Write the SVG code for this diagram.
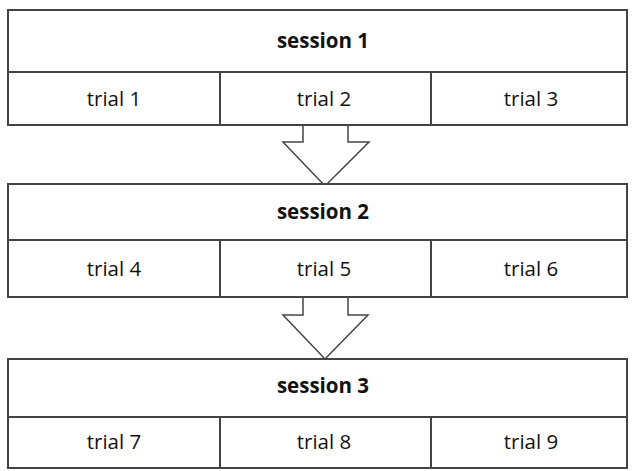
<svg xmlns="http://www.w3.org/2000/svg" width="635" height="471" viewBox="0 0 635 471">
<style>
.box{fill:#fff;stroke:#444;stroke-width:2}
.ln{stroke:#444;stroke-width:2}
.h{font-family:"Open Sans","Liberation Sans",sans-serif;font-size:20.5px;font-weight:bold;fill:#111;text-anchor:middle;dominant-baseline:central}
.t{font-family:"Open Sans","Liberation Sans",sans-serif;font-size:20.5px;fill:#111;text-anchor:middle;dominant-baseline:central}
.arr{fill:#fff;stroke:#444;stroke-width:1.5;stroke-linejoin:miter}
</style>
<rect width="635" height="471" fill="#fff"/>
<g id="connectors">
<polygon class="arr" points="303,125 348,125 348,142 369,142 325,186 283,142 303,142"/>
<polygon class="arr" points="303,297 348,297 348,315 368,315 325,359 283,315 303,315"/>
</g>
<g id="session1">
<rect class="box" x="8" y="10" width="619" height="115"/>
<line class="ln" x1="8" y1="72" x2="627" y2="72"/>
<line class="ln" x1="220" y1="72" x2="220" y2="125"/>
<line class="ln" x1="431" y1="72" x2="431" y2="125"/>
<text class="h" x="323" y="40">session 1</text>
<text class="t" x="114" y="98">trial 1</text>
<text class="t" x="324" y="98">trial 2</text>
<text class="t" x="531" y="98">trial 3</text>
</g>
<g id="session2">
<rect class="box" x="8" y="184" width="619" height="113"/>
<line class="ln" x1="8" y1="240" x2="627" y2="240"/>
<line class="ln" x1="220" y1="240" x2="220" y2="297"/>
<line class="ln" x1="431" y1="240" x2="431" y2="297"/>
<text class="h" x="323" y="211">session 2</text>
<text class="t" x="114" y="268">trial 4</text>
<text class="t" x="324" y="268">trial 5</text>
<text class="t" x="531" y="268">trial 6</text>
</g>
<g id="session3">
<rect class="box" x="8" y="359" width="619" height="109"/>
<line class="ln" x1="8" y1="417" x2="627" y2="417"/>
<line class="ln" x1="220" y1="417" x2="220" y2="468"/>
<line class="ln" x1="431" y1="417" x2="431" y2="468"/>
<text class="h" x="323" y="385">session 3</text>
<text class="t" x="114" y="441">trial 7</text>
<text class="t" x="324" y="441">trial 8</text>
<text class="t" x="531" y="441">trial 9</text>
</g>
</svg>
